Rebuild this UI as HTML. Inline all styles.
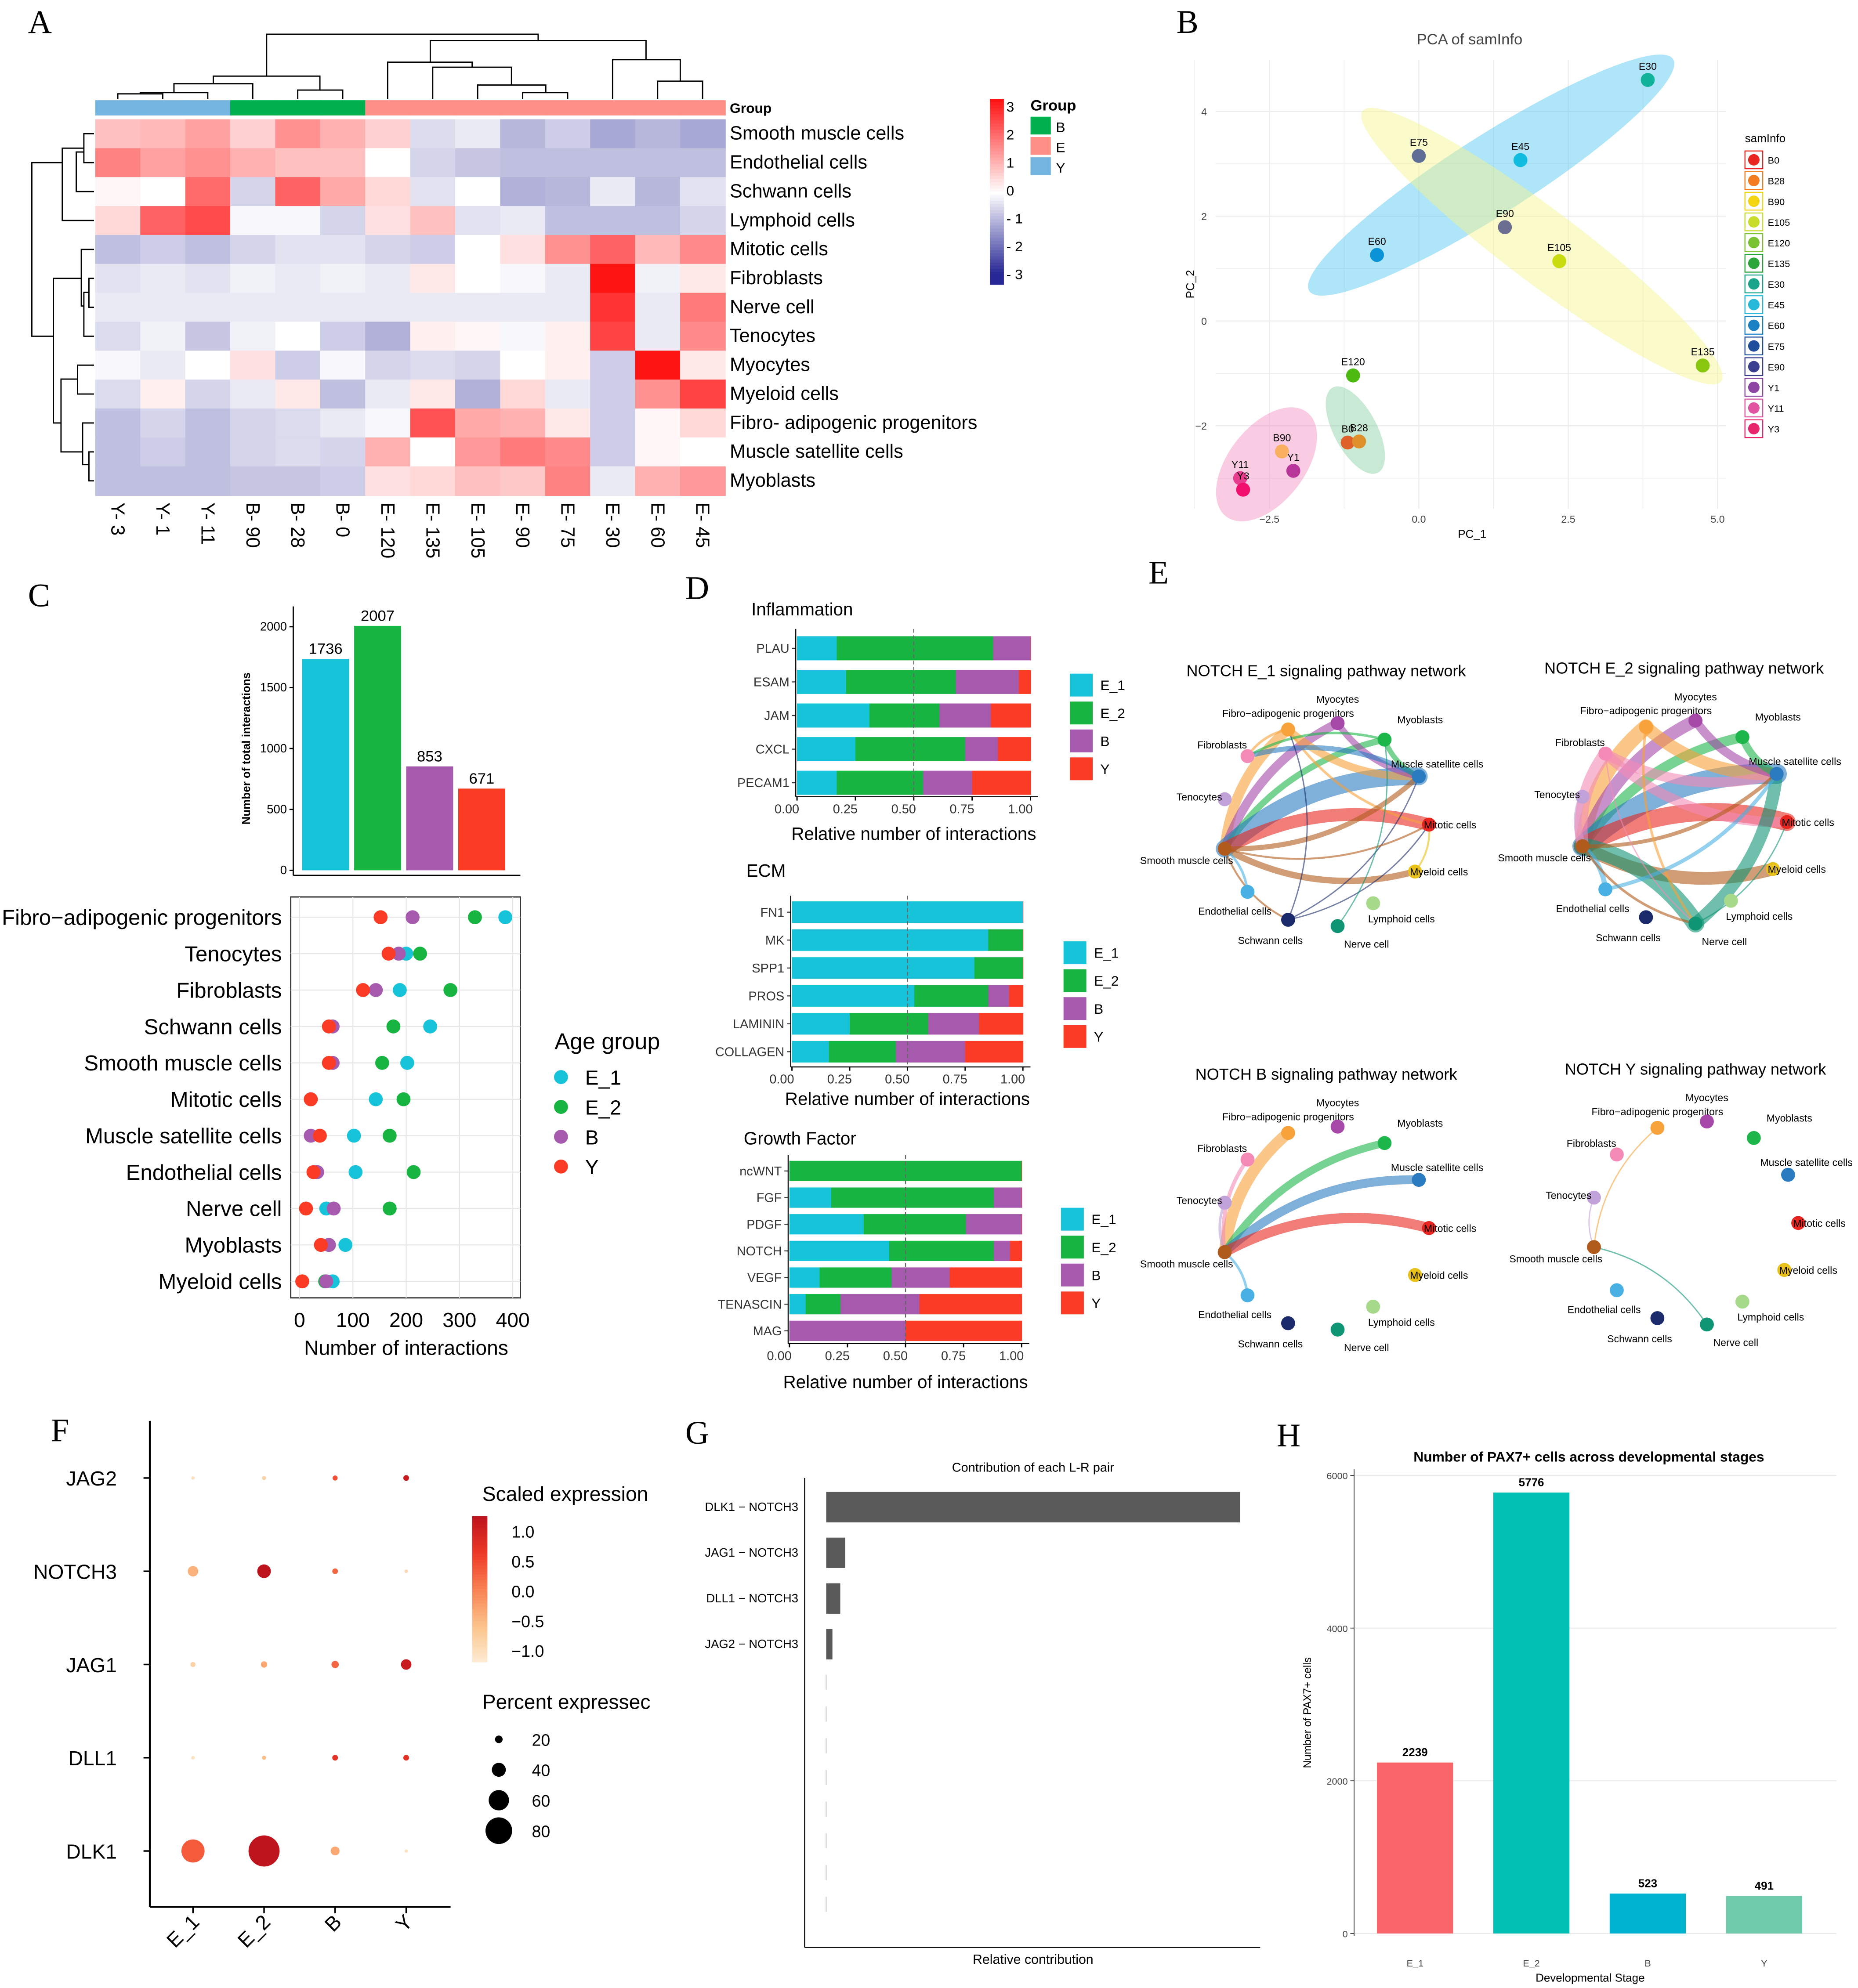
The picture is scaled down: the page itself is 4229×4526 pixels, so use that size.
<!DOCTYPE html>
<html><head><meta charset="utf-8"><style>
html,body{margin:0;padding:0;background:#fff}
svg{display:block}
text{font-family:"Liberation Sans",Arial,sans-serif}
.big{font-family:"Liberation Serif",serif;font-size:26px}
</style></head><body>
<svg id="fig" xmlns="http://www.w3.org/2000/svg" width="4229" height="4526" viewBox="0 0 1464 1567">
<rect width="1464" height="1567" fill="#fff"/>
<g id="gA"></g>
<g id="gB"></g>
<g id="gC"></g>
<g id="gD"></g>
<g id="gE"></g>
<g id="gF"></g>
<g id="gG"></g>
<g id="gH"></g>
</svg>
<script>
// ---------- DATA ----------
const hmCols=["Y- 3","Y- 1","Y- 11","B- 90","B- 28","B- 0","E- 120","E- 135","E- 105","E- 90","E- 75","E- 30","E- 60","E- 45"];
const hmGroups=["Y","Y","Y","B","B","B","E","E","E","E","E","E","E","E"];
const hmRows=["Smooth muscle cells","Endothelial cells","Schwann cells","Lymphoid cells","Mitotic cells","Fibroblasts","Nerve cell","Tenocytes","Myocytes","Myeloid cells","Fibro- adipogenic progenitors","Muscle satellite cells","Myoblasts"];
const hmVals=[
[0.8,0.9,1.2,0.6,1.4,1.0,0.6,-0.5,-0.3,-1.0,-0.7,-1.2,-1.0,-1.2],
[1.6,1.2,1.4,1.0,0.8,0.8,0,-0.6,-0.8,-0.9,-0.9,-0.9,-0.9,-0.9],
[0.1,0,1.9,-0.6,2.0,1.1,0.5,-0.4,0,-1.1,-1.0,-0.3,-1.0,-0.4],
[0.5,2.0,2.3,-0.1,-0.1,-0.6,0.4,0.8,-0.4,-0.3,-0.9,-0.9,-0.9,-0.6],
[-0.9,-0.7,-0.9,-0.6,-0.4,-0.4,-0.6,-0.7,0,0.4,1.4,2.0,0.9,1.5],
[-0.4,-0.3,-0.4,-0.2,-0.3,-0.2,-0.3,0.3,0,-0.1,-0.3,3.0,-0.2,0.3],
[-0.3,-0.3,-0.3,-0.3,-0.3,-0.3,-0.3,-0.3,-0.3,-0.3,-0.3,2.6,-0.3,1.7],
[-0.5,-0.2,-0.8,-0.2,0,-0.7,-1.1,0.2,0.1,-0.1,0.2,2.4,-0.3,1.5],
[-0.1,-0.3,0,0.4,-0.7,-0.1,-0.6,-0.5,-0.6,0,0.2,-0.7,3.0,0.3],
[-0.5,0.2,-0.6,-0.3,0.3,-0.9,-0.3,0.3,-1.1,0.5,-0.3,-0.7,1.4,2.4],
[-0.9,-0.6,-0.9,-0.6,-0.5,-0.3,-0.1,2.2,1.1,1.0,0.3,-0.7,0.1,0.5],
[-0.9,-0.7,-0.9,-0.6,-0.5,-0.6,1.0,0,1.3,1.7,1.5,-0.7,0.1,0],
[-0.9,-0.9,-0.9,-0.8,-0.8,-0.7,0.4,0.5,0.8,0.7,1.6,-0.3,1.0,1.3]];

const pcaLabels=["E30","E75","E45","E90","E60","E105","E135","E120","B0","B28","B90","Y1","Y11","Y3"];
const pcaX=[3.83,0.0,1.70,1.44,-0.70,2.35,4.75,-1.10,-1.19,-1.00,-2.29,-2.10,-2.99,-2.94];
const pcaY=[4.60,3.15,3.07,1.79,1.26,1.14,-0.85,-1.04,-2.32,-2.30,-2.49,-2.86,-3.00,-3.22];
const pcaPtColors=["#10b39a","#5f6e94","#10bde0","#6b6e90","#0b93d8","#c8dc10","#88c610","#4cba10","#e0602a","#e0902a","#f8b060","#b8369a","#e83c8e","#f2106e"];
const samInfo=["B0","B28","B90","E105","E120","E135","E30","E45","E60","E75","E90","Y1","Y11","Y3"];
const samColors=["#e8261f","#f47c20","#f2d410","#c8dc2a","#7ac231","#2aa63b","#1aa58a","#26b8d8","#1a82c4","#1f4f9c","#3a3f8f","#8c45a0","#e054a0","#e8246a"];

const totalGroups=["E_1","E_2","B","Y"];
const totalVals=[1736,2007,853,671];
const ageColors=["#17c3d8","#18b441","#a65aad","#fb3b24"];
const dotCells=["Fibro\u2212adipogenic progenitors","Tenocytes","Fibroblasts","Schwann cells","Smooth muscle cells","Mitotic cells","Muscle satellite cells","Endothelial cells","Nerve cell","Myoblasts","Myeloid cells"];
const dotE1=[386,200,188,245,202,143,102,105,50,86,62];
const dotE2=[329,226,283,176,155,195,169,214,169,55,48];
const dotB=[212,186,143,62,62,21,21,33,64,55,50];
const dotY=[152,167,119,55,55,21,38,26,12,40,5];
const dotTicks=[0,100,200,300,400];

const inflNames=["PLAU","ESAM","JAM","CXCL","PECAM1"];
const inflE1=[.17,.21,.31,.25,.17];const inflE2=[.67,.47,.30,.47,.37];const inflB=[.16,.27,.22,.14,.21];const inflY=[0,.05,.17,.14,.25];
const ecmNames=["FN1","MK","SPP1","PROS","LAMININ","COLLAGEN"];
const ecmE1=[1,.85,.79,.53,.25,.16];const ecmE2=[0,.15,.21,.32,.34,.29];const ecmB=[0,0,0,.09,.22,.30];const ecmY=[0,0,0,.06,.19,.25];
const gfNames=["ncWNT","FGF","PDGF","NOTCH","VEGF","TENASCIN","MAG"];
const gfE1=[0,.18,.32,.43,.13,.07,0];const gfE2=[1,.70,.44,.45,.31,.15,0];const gfB=[0,.12,.24,.07,.25,.34,.5];const gfY=[0,0,0,.05,.31,.44,.5];
const fracTicks=[0,0.25,0.5,0.75,1];

const fGenes=["JAG2","NOTCH3","JAG1","DLL1","DLK1"];
const fGroups=["E_1","E_2","B","Y"];
const fPct=[[3,5,8,10],[25,35,10,3],[8,12,15,25],[3,5,10,10],[65,90,20,2]];
const fExp=[[-1,-0.8,0.5,1.2],[-0.4,1.3,0.3,-0.9],[-0.8,-0.3,0.3,1.2],[-1,-0.5,0.8,0.8],[0.4,1.3,-0.3,-1]];

const lrPairs=["DLK1 \u2212 NOTCH3","JAG1 \u2212 NOTCH3","DLL1 \u2212 NOTCH3","JAG2 \u2212 NOTCH3"];
const lrVals=[1.0,0.046,0.034,0.015];

const paxStages=["E_1","E_2","B","Y"];
const paxVals=[2239,5776,523,491];
const paxColors=["#f8666a","#00bfb3","#00b5d1","#6fcbab"];
const paxTicks=[0,2000,4000,6000];

const netNodes=["Fibro\u2212adipogenic progenitors","Myocytes","Myoblasts","Fibroblasts","Muscle satellite cells","Tenocytes","Mitotic cells","Smooth muscle cells","Myeloid cells","Endothelial cells","Lymphoid cells","Schwann cells","Nerve cell"];
const netColors=["#f7a23a","#a548a8","#1db64a","#f48bb6","#2a7bbf","#c0a2d8","#e8261f","#b05b1c","#e8c21a","#49b0e3","#a7d98a","#1b2a6b","#0f9474"];
const netE1=[[0,7,8],[1,7,7],[2,7,5],[4,7,14],[6,7,10],[7,8,5],[0,4,6],[0,6,2],[1,4,5],[2,4,4],[4,3,4],[0,3,2],[2,3,2],[7,4,4],[7,11,1.5],[11,4,1],[11,6,1],[11,0,1],[9,7,2],[7,6,1.5],[8,6,1.5],[12,2,1]];
const netE2=[[0,7,12],[1,7,10],[2,7,8],[4,7,16],[6,7,14],[7,8,10],[0,4,10],[3,4,8],[3,6,8],[1,4,7],[2,4,6],[12,7,14],[12,4,10],[5,7,6],[3,7,10],[9,7,4],[7,4,3],[7,12,2],[0,12,2],[9,4,3],[3,12,1],[12,6,1]];
const netB=[[0,7,9],[2,7,6],[4,7,7],[6,7,8],[3,7,3],[5,7,2],[9,7,2]];
const netY=[[0,7,1],[5,7,1],[12,7,1]];

// ---------- HELPERS ----------
const NS="http://www.w3.org/2000/svg";
function mk(parent,tag,attrs,txt){const e=document.createElementNS(NS,tag);for(const k in attrs)e.setAttribute(k,attrs[k]);if(txt!==undefined)e.textContent=txt;parent.appendChild(e);return e;}
function T(parent,x,y,s,size,opts){opts=opts||{};const a={x:x,y:y,"font-size":size,fill:opts.fill||"#000"};if(opts.anchor)a["text-anchor"]=opts.anchor;if(opts.weight)a["font-weight"]=opts.weight;if(opts.tr)a.transform=opts.tr;if(opts.cls)a["class"]=opts.cls;const e=mk(parent,"text",a,s);return e;}
function L(p,x1,y1,x2,y2,st,w,extra){const e=mk(p,"line",Object.assign({x1:x1,y1:y1,x2:x2,y2:y2,stroke:st||"#000","stroke-width":w||1},extra||{}));return e;}
function R(p,x,y,w,h,f,name){const e=mk(p,"rect",{x:x,y:y,width:Math.max(0,w),height:h,fill:f});return e;}
function C(p,x,y,r,f,name){const e=mk(p,"circle",{cx:x,cy:y,r:r,fill:f});return e;}
function mix(a,b,t){return "rgb("+a.map((v,i)=>Math.round(v+(b[i]-v)*t)).join(",")+")";}

// ---------- PANEL A ----------
(function(){
const g=document.getElementById("gA");
T(g,22,26,"A",26,{cls:"big",name:"panel-label-a"});
const x0=75,w=35.45,y0=94,h=22.8;
const gc={Y:"#74b4e0",B:"#00b04f",E:"#fe8f86"};
hmCols.forEach((c,i)=>{R(g,x0+i*w,79,w+0.5,12,gc[hmGroups[i]],"group-bar-cell");});
T(g,575,89,"Group",11,{weight:"bold",name:"group-bar-label"});
function col(v){if(v>=0){return mix([255,255,255],[255,20,20],Math.min(v/3,1));}return mix([255,255,255],[40,40,150],Math.min(-v/3,1)*1.0);}
hmVals.forEach((row,r)=>{row.forEach((v,i)=>{R(g,x0+i*w,y0+r*h,w+0.5,h+0.5,col(v),"heatmap-cell");});
 T(g,575,y0+r*h+16,hmRows[r],15,{name:"row-label"});});
hmCols.forEach((c,i)=>{T(g,x0+i*w+w/2-5,396,c,15,{tr:"rotate(90 "+(x0+i*w+w/2-5)+" 396)",name:"column-label"});});
const cx=i=>x0+i*w+w/2;
const dp=[[cx(0),78,cx(0),74,cx(1),74,cx(1),78],[(cx(0)+cx(1))/2,74,(cx(0)+cx(1))/2,73,cx(2),73,cx(2),78],[137,73,137,66,cx(3),66,cx(3),78],[cx(4),78,cx(4),71,cx(5),71,cx(5),78],[168,66,168,60,252,60,252,71],
[cx(6),78,cx(6),49,372,49,372,53],[cx(7),78,cx(7),53,403,53,403,67],[cx(8),78,cx(8),67,430,67,430,73],[cx(9),78,cx(9),73,cx(10),73,cx(10),78],
[339,49,339,32,509,32,509,47],[cx(11),78,cx(11),47,536,47,536,64],[cx(12),78,cx(12),64,cx(13),64,cx(13),78],[210,60,210,27,424,27,424,32]];
dp.forEach(p=>{const e=mk(g,"polyline",{points:p.join(","),fill:"none",stroke:"#000","stroke-width":1});});
const ry=r=>y0+r*h+h/2;
const rp=[[74,ry(0),66,ry(0),66,ry(1),74,ry(1)],[66,(ry(0)+ry(1))/2,49,(ry(0)+ry(1))/2,49,ry(3),74,ry(3)],[74,ry(2),60,ry(2),60,(ry(0)+ry(1))/2+3,66,(ry(0)+ry(1))/2+3],
[74,ry(5),70,ry(5),70,ry(6),74,ry(6)],[70,ry(5)+11,66,ry(5)+11,66,ry(7),74,ry(7)],[74,ry(4),64,ry(4),64,ry(6)-1,66,ry(6)-1],[64,ry(5),42,ry(5),42,ry(10),48,ry(10)],
[74,ry(8),61,ry(8),61,ry(9),74,ry(9)],[74,ry(11),70,ry(11),70,ry(12),74,ry(12)],[74,ry(10),65,ry(10),65,ry(11)+10,70,ry(11)+10],[61,ry(8)+11,48,ry(8)+11,48,ry(11),65,ry(11)],[49,ry(1),25,ry(1),25,ry(7),42,ry(7)]];
rp.forEach(p=>{const e=mk(g,"polyline",{points:p.join(","),fill:"none",stroke:"#000","stroke-width":1});});
const cbT=78,cbB=224;
for(let i=0;i<60;i++){const v=3-6*i/60;R(g,780,cbT+i*(cbB-cbT)/60,11,(cbB-cbT)/60+0.5,col(v<-0.0?v*1.15:v),"colorbar-segment");}
[3,2,1,0,-1,-2,-3].forEach((v,i)=>{T(g,793,cbT+10+i*((cbB-cbT-14)/6),v<0?"- "+(-v):String(v),11,{name:"colorbar-tick"});});
T(g,812,87,"Group",12,{weight:"bold",name:"group-legend-title"});
["B","E","Y"].forEach((k,i)=>{R(g,812,92+i*16,16,14,gc[k],"group-legend-key");T(g,832,104+i*16,k,11,{name:"group-legend-label"});});
})();

// ---------- PANEL B ----------
(function(){
const g=document.getElementById("gB");
T(g,927,26,"B",26,{cls:"big",name:"panel-label-b"});
const sx=v=>1118+v*47.1, sy=v=>253-v*41.3;
T(g,1158,35,"PCA of samInfo",12,{anchor:"middle",fill:"#444",name:"pca-title"});
[-3.75,-2.5,-1.25,0,1.25,2.5,3.75,5].forEach(v=>{L(g,sx(v),47,sx(v),401,"#ececec",Number.isInteger(v*2)?0.8:0.5);});
[-3,-2,-1,0,1,2,3,4].forEach(v=>{L(g,958,sy(v),1360,sy(v),"#ececec",v%2===0?0.8:0.5);});
const ell=[[1175,138,170,31,-32.5,"#4ec6f0"],[1215,194,177,29,37,"#f7f48a"],[998,366,52,30,-52,"#f58fc0"],[1068,339,38,17,62,"#86cfa0"]];
ell.forEach(e=>{const el=mk(g,"ellipse",{cx:e[0],cy:e[1],rx:e[2],ry:e[3],fill:e[5],opacity:0.45,transform:"rotate("+e[4]+" "+e[0]+" "+e[1]+")"});});
[4,2,0,-2].forEach(v=>{T(g,951,sy(v)+3,String(v).replace("-","\u2212"),8,{anchor:"end",fill:"#444",name:"y-tick"});});
[-2.5,0,2.5,5].forEach(v=>{T(g,sx(v),412,v.toFixed(1).replace("-","\u2212"),8,{anchor:"middle",fill:"#444",name:"x-tick"});});
T(g,1160,424,"PC_1",9,{anchor:"middle",name:"x-axis-title"});
T(g,941,224,"PC_2",9,{anchor:"middle",tr:"rotate(-90 941 224)",name:"y-axis-title"});
pcaLabels.forEach((lb,i)=>{C(g,sx(pcaX[i]),sy(pcaY[i]),5.5,pcaPtColors[i],"pca-point");T(g,sx(pcaX[i]),sy(pcaY[i])-8,lb,8,{anchor:"middle",name:"point-label"});});
T(g,1375,112,"samInfo",9,{name:"legend-title"});
samInfo.forEach((s,i)=>{const y=126+i*16.3;mk(g,"rect",{x:1375,y:y-7,width:14,height:14,fill:"#fff",stroke:samColors[i],"stroke-width":0.8});C(g,1382,y,4.5,samColors[i],"legend-dot");T(g,1393,y+3,s,7.5,{name:"legend-label"});});
})();

// ---------- PANEL C ----------
(function(){
const g=document.getElementById("gC");
T(g,22,478,"C",26,{cls:"big",name:"panel-label-c"});
const by=v=>686-v*0.096;
L(g,231,478,231,690,"#000",1);
[0,500,1000,1500,2000].forEach(v=>{L(g,228,by(v),231,by(v));T(g,226,by(v)+3,String(v),9.5,{anchor:"end",name:"y-tick"});});
L(g,231,690,410,690,"#000",1);
totalVals.forEach((v,i)=>{const x=238+i*41;R(g,x,by(v),37,by(0)-by(v),ageColors[i],"bar-"+totalGroups[i]);T(g,x+18.5,by(v)-4,String(v),12,{anchor:"middle",name:"bar-value"});});
T(g,197,590,"Number of total interactions",9,{anchor:"middle",tr:"rotate(-90 197 590)",weight:"bold",name:"y-axis-title"});
const dx=v=>236+v*0.42, dyy=i=>723+i*28.7;
mk(g,"rect",{x:229,y:707,width:181,height:316,fill:"#fff",stroke:"#333","stroke-width":1});
dotTicks.forEach(v=>{L(g,dx(v),707,dx(v),1023,"#e6e6e6",0.8);T(g,dx(v),1046,String(v),16,{anchor:"middle",name:"x-tick"});});
dotCells.forEach((c,i)=>{L(g,229,dyy(i),410,dyy(i),"#e6e6e6",0.8);T(g,222,dyy(i)+6,c,17,{anchor:"end",name:"row-label"});});
const ser=[dotE1,dotE2,dotB,dotY],sc=[ageColors[0],ageColors[1],ageColors[2],ageColors[3]];
ser.forEach((arr,k)=>arr.forEach((v,i)=>{C(g,dx(v),dyy(i),5.5,sc[k],"interaction-dot");}));
T(g,320,1068,"Number of interactions",16,{anchor:"middle",name:"x-axis-title"});
T(g,437,827,"Age group",18,{name:"legend-title"});
totalGroups.forEach((s,i)=>{C(g,442,849+i*23.5,5.5,ageColors[i],"legend-dot");T(g,461,855+i*23.5,s,16,{name:"legend-label"});});
})();

// ---------- PANEL D ----------
(function(){
const g=document.getElementById("gD");
T(g,540,472,"D",26,{cls:"big",name:"panel-label-d"});
function stack(title,ty,names,arrs,x0,x1,y0,step,bh,axY,legY,legX,xtitleY){
 T(g,x0-36,ty,title,14,{name:"subpanel-title"});
 const sx=v=>x0+v*(x1-x0);
 names.forEach((n,i)=>{let acc=0;const y=y0+i*step;arrs.forEach((a,k)=>{R(g,sx(acc),y-bh/2,sx(acc+a[i])-sx(acc)+0.3,bh,ageColors[k],"stack-seg-"+totalGroups[k]);acc+=a[i];});
  L(g,x0-4,y,x0-1,y,"#333",0.8);T(g,x0-6,y+3.5,n,10,{anchor:"end",fill:"#333",name:"row-label"});});
 L(g,x0-1,y0-step/2-2,x0-1,axY,"#000",0.8);L(g,x0-1,axY,x1+6,axY,"#000",0.8);
 L(g,sx(0.5),y0-step/2-2,sx(0.5),axY,"#666",0.8,{"stroke-dasharray":"3,2"});
 fracTicks.forEach(v=>{L(g,sx(v),axY,sx(v),axY+3);T(g,sx(v)-8,axY+13,v.toFixed(2),10,{anchor:"middle",fill:"#333",name:"x-tick"});});
 T(g,(x0+x1)/2,xtitleY,"Relative number of interactions",14,{anchor:"middle",name:"x-axis-title"});
 totalGroups.forEach((s,i)=>{R(g,legX,legY+i*22,18,18,ageColors[i],"legend-key");T(g,legX+24,legY+13+i*22,s,11,{name:"legend-label"});});
}
stack("Inflammation",485,inflNames,[inflE1,inflE2,inflB,inflY],628,812,511,26.5,19,628,531,843,662);
stack("ECM",691,ecmNames,[ecmE1,ecmE2,ecmB,ecmY],624,806,719,22,17,841,742,838,871);
stack("Growth Factor",902,gfNames,[gfE1,gfE2,gfB,gfY],622,805,923,21,16,1059,952,836,1094);
})();

// ---------- PANEL E ----------
(function(){
const g=document.getElementById("gE");
T(g,905,460,"E",26,{cls:"big",name:"panel-label-e"});
const base=[[1015,575],[1054,570],[1091,583],[983,596],[1118,612],[965,630],[1126,650],[965,669],[1115,687],[983,703],[1082,712],[1015,725],[1054,730]];
const lblOff=[[0,-10,"middle"],[0,-16,"middle"],[10,-13,"start"],[-20,-6,"middle"],[-22,-7,"start"],[-20,1,"middle"],[-4,3,"start"],[-30,12,"middle"],[-4,3,"start"],[-10,18,"middle"],[-4,15,"start"],[-14,19,"middle"],[5,17,"start"]];
function net(ox,oy,edges,title){
 const grp=mk(g,"g",{});
 T(grp,1045+ox,533+oy,title,12.5,{anchor:"middle",name:"network-title"});
 edges.forEach(e=>{const a=base[e[0]],b=base[e[1]];const x1=a[0]+ox,y1=a[1]+oy,x2=b[0]+ox,y2=b[1]+oy;const mx=(x1+x2)/2,my=(y1+y2)/2;const dx=x2-x1,dy=y2-y1;const cx=mx-dy*0.2,cy=my+dx*0.2;
  const p=mk(grp,"path",{d:"M"+x1+","+y1+" Q"+cx+","+cy+" "+x2+","+y2,fill:"none",stroke:netColors[e[0]],"stroke-width":e[2],opacity:0.6,"stroke-linecap":"round"});});
 base.forEach((n,i)=>{C(grp,n[0]+ox,n[1]+oy,5.5,netColors[i],"network-node");const o=lblOff[i];T(grp,n[0]+ox+o[0],n[1]+oy+o[1],netNodes[i],8,{anchor:o[2],name:"node-label"});});
}
net(0,0,netE1,"NOTCH E_1 signaling pathway network");
net(282,-2,netE2,"NOTCH E_2 signaling pathway network");
net(0,318,netB,"NOTCH B signaling pathway network");
net(291,314,netY,"NOTCH Y signaling pathway network");
})();

// ---------- PANEL F ----------
(function(){
const g=document.getElementById("gF");
T(g,40,1136,"F",26,{cls:"big",name:"panel-label-f"});
const gx=i=>152+i*56, gy=i=>1165+i*73.5;
L(g,118,1120,118,1503,"#000",1.5);L(g,118,1503,355,1503,"#000",1.5);
function ecol(v){const t=(Math.max(-1.2,Math.min(1.3,v))+1.2)/2.5;const stops=[[253,237,214],[252,196,140],[249,132,84],[238,58,38],[190,20,30]];const s=t*(stops.length-1);const k=Math.min(Math.floor(s),stops.length-2);return mix(stops[k],stops[k+1],s-k);}
const rad=p=>1+p*0.125;
fGenes.forEach((gn,r)=>{L(g,113,gy(r),118,gy(r),"#000",1.2);T(g,92,gy(r)+6,gn,16,{anchor:"end",name:"gene-label"});
 fGroups.forEach((gr,c)=>{C(g,gx(c),gy(r),rad(fPct[r][c]),ecol(fExp[r][c]),"expression-dot");});});
fGroups.forEach((gr,c)=>{L(g,gx(c),1503,gx(c),1508,"#000",1.2);T(g,gx(c)+6,1516,gr,16,{anchor:"end",tr:"rotate(-45 "+(gx(c)+6)+" 1516)",name:"x-tick"});});
T(g,380,1183,"Scaled expression",16,{name:"legend-title"});
for(let i=0;i<50;i++){const v=1.3-2.5*i/50;R(g,372,1195+i*2.3,12,2.6,ecol(v),"colorbar-segment");}
[1.0,0.5,0.0,-0.5,-1.0].forEach((v,i)=>{T(g,403,1212+i*23.5,v.toFixed(1).replace("-","\u2212"),13,{name:"colorbar-tick"});});
T(g,380,1347,"Percent expressec",16,{name:"legend-title"});
[20,40,60,80].forEach((p,i)=>{C(g,393,1371+i*24,rad(p)-0.5,"#000","size-legend-dot");T(g,419,1376+i*24,String(p),13,{name:"size-legend-label"});});
})();

// ---------- PANEL G ----------
(function(){
const g=document.getElementById("gG");
T(g,540,1138,"G",26,{cls:"big",name:"panel-label-g"});
T(g,814,1160,"Contribution of each L-R pair",10,{anchor:"middle",name:"chart-title"});
L(g,634,1165,634,1535,"#000",0.8);L(g,634,1535,993,1535,"#000",0.8);
const sx=v=>651+v*326;
for(let i=0;i<8;i++)L(g,651,1320+i*25,651,1332+i*25,"#ddd",1);
lrPairs.forEach((p,i)=>{const y=1188+i*36;R(g,651,y-12,sx(lrVals[i])-651,24,"#595959","contribution-bar");T(g,629,y+3,p,9.5,{anchor:"end",name:"pair-label"});});
T(g,814,1548,"Relative contribution",10.5,{anchor:"middle",name:"x-axis-title"});
})();

// ---------- PANEL H ----------
(function(){
const g=document.getElementById("gH");
T(g,1006,1140,"H",26,{cls:"big",name:"panel-label-h"});
T(g,1252,1152,"Number of PAX7+ cells across developmental stages",11,{anchor:"middle",weight:"bold",name:"chart-title"});
const sy=v=>1524-v*0.06017;
paxTicks.forEach(v=>{L(g,1067,sy(v),1447,sy(v),"#ebebeb",0.8);L(g,1064,sy(v),1067,sy(v),"#333",0.6);T(g,1062,sy(v)+3,String(v),7.5,{anchor:"end",fill:"#444",name:"y-tick"});});
L(g,1067,1158,1067,1526,"#333",0.6);
paxVals.forEach((v,i)=>{const x=1085+i*91.7;R(g,x,sy(v),60,sy(0)-sy(v),paxColors[i],"bar-"+paxStages[i]);T(g,x+30,sy(v)-5,String(v),9,{anchor:"middle",weight:"bold",name:"bar-value"});T(g,x+30,1550,paxStages[i],7.5,{anchor:"middle",fill:"#444",name:"x-tick"});});
T(g,1253,1562,"Developmental Stage",9,{anchor:"middle",name:"x-axis-title"});
T(g,1033,1350,"Number of PAX7+ cells",8.5,{anchor:"middle",tr:"rotate(-90 1033 1350)",name:"y-axis-title"});
})();
</script>
</body></html>
